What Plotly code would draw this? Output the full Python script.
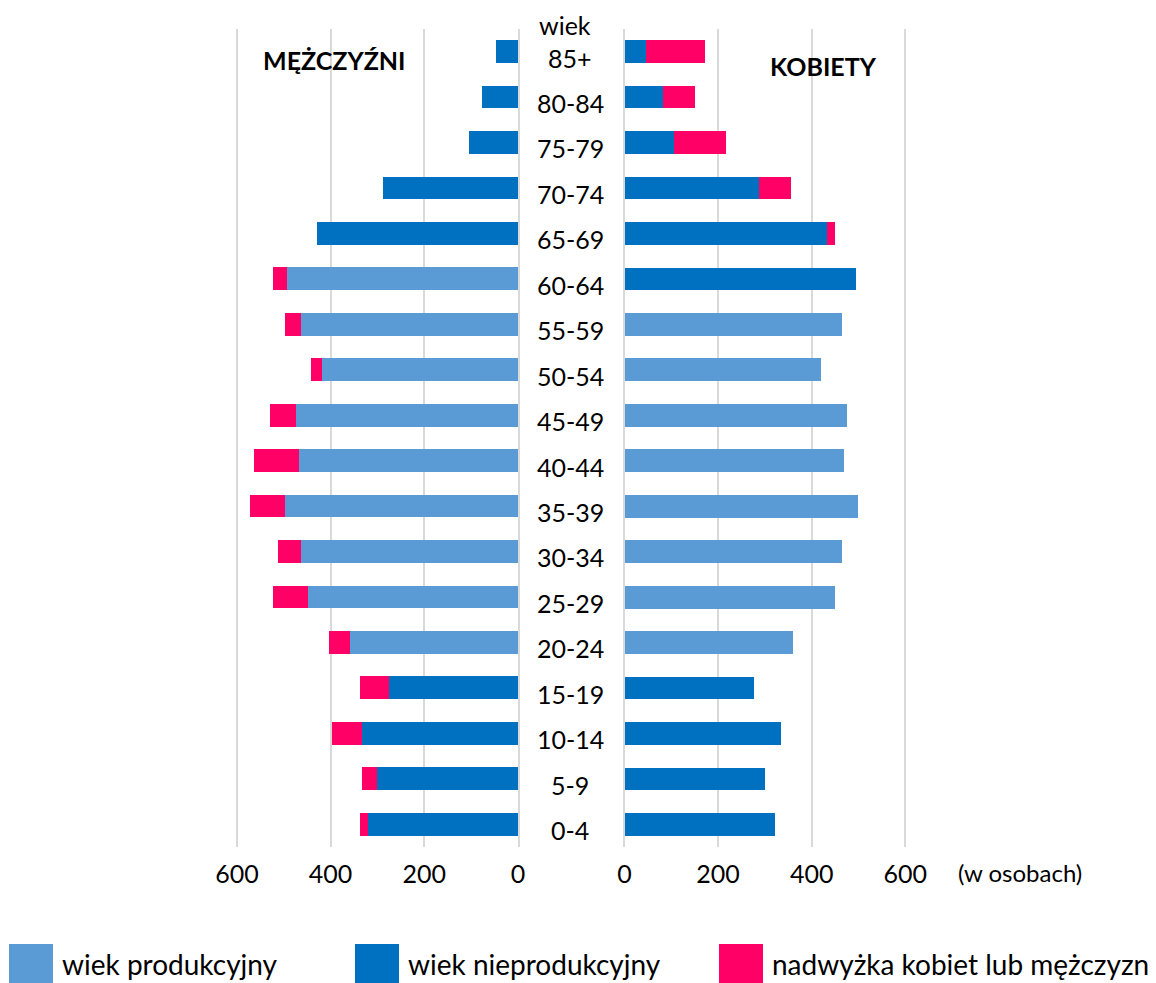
import plotly.graph_objects as go

# age groups, bottom to top
ages = ['0-4', '5-9', '10-14', '15-19', '20-24', '25-29', '30-34', '35-39', '40-44',
        '45-49', '50-54', '55-59', '60-64', '65-69', '70-74', '75-79', '80-84', '85+']

# men (w osobach)
men_nonprod = [320, 300, 332, 275, 0, 0, 0, 0, 0, 0, 0, 0, 0, 430, 288, 105, 77, 46]
men_prod = [0, 0, 0, 0, 359, 448, 463, 497, 468, 474, 419, 463, 492, 0, 0, 0, 0, 0]
men_surplus = [18, 32, 66, 63, 44, 75, 50, 76, 95, 55, 23, 34, 31, 0, 0, 0, 0, 0]

# women
women_nonprod = [321, 300, 334, 277, 0, 0, 0, 0, 0, 0, 0, 0, 494, 433, 288, 106, 83, 46]
women_prod = [0, 0, 0, 0, 361, 449, 465, 499, 470, 475, 420, 465, 0, 0, 0, 0, 0, 0]
women_surplus = [0, 0, 0, 0, 0, 0, 0, 0, 0, 0, 0, 0, 0, 16, 67, 110, 68, 126]

ticks = [0, 200, 400, 600]

C_PROD = '#5B9BD5'
C_NONPROD = '#0070C0'
C_SURPLUS = '#FF0066'
FONT = 'Lato'

W, H = 1156, 983

fig = go.Figure()

def add_side(prod, nonprod, surplus, xa, ya):
    for vals, col, name in [(prod, C_PROD, 'wiek produkcyjny'),
                            (nonprod, C_NONPROD, 'wiek nieprodukcyjny'),
                            (surplus, C_SURPLUS, 'nadwyżka kobiet lub mężczyzn')]:
        fig.add_trace(go.Bar(y=ages, x=vals, orientation='h', marker_color=col,
                             marker_line_width=0, name=name, showlegend=False,
                             xaxis=xa, yaxis=ya))

add_side(men_prod, men_nonprod, men_surplus, 'x', 'y')
add_side(women_prod, women_nonprod, women_surplus, 'x2', 'y2')

ydom = [1 - 847.2 / H, 1 - 28.8 / H]
axis_common = dict(tickvals=ticks, showgrid=True, gridcolor='#D9D9D9', gridwidth=2,
                   zeroline=False, ticks='', ticklabelstandoff=10,
                   tickfont=dict(family=FONT, size=25, color='#000'), fixedrange=True)
yaxis_common = dict(categoryorder='array', categoryarray=ages, showticklabels=False,
                    showgrid=False, domain=ydom, showline=True, linecolor='#D9D9D9',
                    linewidth=2, ticks='', fixedrange=True)

fig.update_layout(
    width=W, height=H,
    margin=dict(l=0, r=0, t=0, b=0, autoexpand=False),
    paper_bgcolor='white', plot_bgcolor='white',
    barmode='stack', bargap=0.5,
    font=dict(family=FONT, color='#000'),
    xaxis=dict(domain=[232.2 / W, 518 / W], range=[610, 0], **axis_common),
    xaxis2=dict(domain=[624.5 / W, 910 / W], range=[0, 610], **axis_common),
    yaxis=dict(anchor='x', side='right', **yaxis_common),
    yaxis2=dict(anchor='x2', side='left', **yaxis_common),
)

def note(x, y, text, size=25, xanchor='center'):
    fig.add_annotation(x=x / W, y=1 - y / H, xref='paper', yref='paper', text=text,
                       xanchor=xanchor, yanchor='middle', showarrow=False,
                       font=dict(family=FONT, size=size, color='#000'))

# age labels in the middle
for a in ages:
    fig.add_annotation(x=570 / W, xref='paper', y=a, yref='y', text=a, showarrow=False,
                       xanchor='center', yanchor='middle', yshift=-6,
                       font=dict(family=FONT, size=25, color='#000'))

note(565, 25, 'wiek')
note(334, 60, '<b>MĘŻCZYŹNI</b>')
note(823, 66, '<b>KOBIETY</b>')
note(1020, 872, '(w osobach)', size=24)

# legend drawn by hand (big squares like in the original)
legend_items = [('wiek produkcyjny', C_PROD, 9), ('wiek nieprodukcyjny', C_NONPROD, 355),
                ('nadwyżka kobiet lub mężczyzn', C_SURPLUS, 719)]
for label, col, x0 in legend_items:
    fig.add_shape(type='rect', xref='paper', yref='paper', x0=x0 / W, x1=(x0 + 44) / W,
                  y0=0, y1=1 - 944 / H, fillcolor=col, line_width=0)
    note(x0 + 51, 964, label, size=28, xanchor='left')

fig.write_html('out.html', config={'displayModeBar': False},
               post_script="document.body.style.margin='0';")
